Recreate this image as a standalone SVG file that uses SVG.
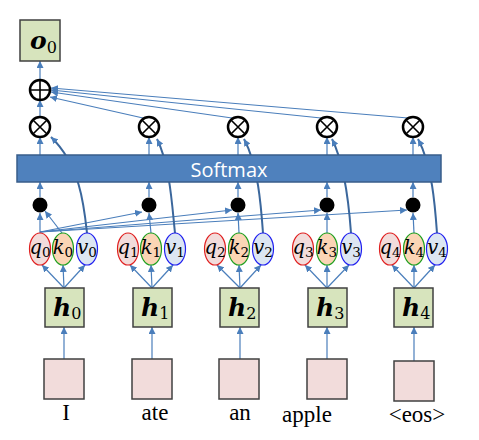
<svg xmlns="http://www.w3.org/2000/svg" width="479" height="440" viewBox="0 0 479 440">
<style>
.ln{stroke:#4A7EBB;stroke-width:1.2;fill:none;marker-end:url(#ah)}
.cv{stroke:#3B679C;stroke-width:2;fill:none;marker-end:url(#ah)}
.grn{fill:#D7E4BD;stroke:#404040;stroke-width:1.5}
.pnk{fill:#F2DCDB;stroke:#404040;stroke-width:1.5}
.q{fill:#F2DCDB;stroke:#E02020;stroke-width:1.2}
.k{fill:#FBD5B5;stroke:#20A020;stroke-width:1.2}
.v{fill:#DCE6F2;stroke:#2020F0;stroke-width:1.2}
.op{fill:#fff;stroke:#000;stroke-width:2.5}
.opx{stroke:#000;stroke-width:1.6;fill:none}
.dot{fill:#000}
.sym{font-family:"DejaVu Serif","Liberation Serif",serif;font-style:italic;font-size:19.5px;fill:#000;text-anchor:middle}
.sub{font-style:normal;font-size:13.5px}
.hb{font-family:"DejaVu Serif","Liberation Serif",serif;font-style:italic;font-weight:bold;font-size:25px;fill:#000}
.hs{font-style:normal;font-weight:normal;font-size:16px}
.word{font-family:"Liberation Serif",serif;font-size:23px;fill:#000;text-anchor:middle}
</style>
<defs>
<marker id="ah" viewBox="0 0 10 10" refX="10" refY="5" markerWidth="7" markerHeight="7" markerUnits="userSpaceOnUse" orient="auto">
<path d="M0,0 L10,5 L0,10 z" fill="#4A7EBB"/>
</marker>
</defs>
<g id="connectors">
<line class="ln" x1="64" y1="359" x2="64" y2="327"/>
<line class="ln" x1="152" y1="359" x2="152" y2="327"/>
<line class="ln" x1="240" y1="359" x2="240" y2="327"/>
<line class="ln" x1="327" y1="359" x2="327" y2="327"/>
<line class="ln" x1="414" y1="361" x2="414" y2="327"/>
<line class="ln" x1="64" y1="288" x2="42" y2="265"/>
<line class="ln" x1="64" y1="288" x2="63" y2="265"/>
<line class="ln" x1="64" y1="288" x2="85" y2="265"/>
<line class="ln" x1="152" y1="288" x2="130" y2="265"/>
<line class="ln" x1="152" y1="288" x2="151" y2="265"/>
<line class="ln" x1="152" y1="288" x2="173" y2="265"/>
<line class="ln" x1="240" y1="288" x2="217" y2="265"/>
<line class="ln" x1="240" y1="288" x2="239" y2="265"/>
<line class="ln" x1="240" y1="288" x2="261" y2="265"/>
<line class="ln" x1="327" y1="288" x2="305" y2="265"/>
<line class="ln" x1="327" y1="288" x2="327" y2="265"/>
<line class="ln" x1="327" y1="288" x2="349" y2="265"/>
<line class="ln" x1="414" y1="288" x2="392" y2="265"/>
<line class="ln" x1="414" y1="288" x2="414" y2="265"/>
<line class="ln" x1="414" y1="288" x2="435" y2="265"/>
<line class="ln" x1="40" y1="233" x2="40" y2="213"/>
<line class="ln" x1="62" y1="233" x2="45" y2="211"/>
<line class="ln" x1="40" y1="232" x2="142" y2="212"/>
<line class="ln" x1="40" y1="232" x2="232" y2="210"/>
<line class="ln" x1="40" y1="232" x2="321" y2="210"/>
<line class="ln" x1="40" y1="232" x2="407" y2="210"/>
<line class="ln" x1="151" y1="233" x2="149" y2="213"/>
<line class="ln" x1="239" y1="233" x2="238" y2="213"/>
<line class="ln" x1="327" y1="233" x2="327" y2="213"/>
<line class="ln" x1="414" y1="233" x2="413" y2="213"/>
<line class="ln" x1="40" y1="197" x2="40" y2="182"/>
<line class="ln" x1="149" y1="197" x2="149" y2="182"/>
<line class="ln" x1="238" y1="197" x2="238" y2="182"/>
<line class="ln" x1="327" y1="197" x2="327" y2="182"/>
<line class="ln" x1="413" y1="197" x2="413" y2="182"/>
<line class="ln" x1="40" y1="155" x2="40" y2="137"/>
<line class="ln" x1="149" y1="155" x2="149" y2="137"/>
<line class="ln" x1="238" y1="155" x2="238" y2="137"/>
<line class="ln" x1="327" y1="155" x2="327" y2="137"/>
<line class="ln" x1="413" y1="155" x2="413" y2="137"/>
<path class="cv" d="M87,233 C84,205 80,165 51,137"/>
<path class="cv" d="M175,233 C172,205 170,165 157,139"/>
<path class="cv" d="M263,233 C261,205 258,165 244,139"/>
<path class="cv" d="M351,233 C349,205 345,165 332,139"/>
<path class="cv" d="M437,233 C435,205 432,165 418,139"/>
<line class="ln" x1="40" y1="117" x2="40" y2="100"/>
<line class="ln" x1="143" y1="118" x2="50" y2="97"/>
<line class="ln" x1="232" y1="118" x2="51" y2="92"/>
<line class="ln" x1="321" y1="118" x2="51" y2="90"/>
<line class="ln" x1="408" y1="118" x2="51" y2="88"/>
<line class="ln" x1="40" y1="80" x2="40" y2="61"/>
</g>
<g id="o0">
<rect class="grn" x="20" y="20" width="40" height="41"/>
<text class="hb" x="30" y="49">o<tspan class="hs" dy="4">0</tspan></text>
</g>
<g id="plus">
<circle class="op" cx="40" cy="90" r="10"/>
<path class="opx" d="M30,90 H50 M40,80 V100"/>
</g>
<g id="otimes0"><circle class="op" cx="40" cy="127" r="10"/><path class="opx" d="M33,120 L47,134 M47,120 L33,134"/></g>
<g id="otimes1"><circle class="op" cx="149" cy="127" r="10"/><path class="opx" d="M142,120 L156,134 M156,120 L142,134"/></g>
<g id="otimes2"><circle class="op" cx="238" cy="127" r="10"/><path class="opx" d="M231,120 L245,134 M245,120 L231,134"/></g>
<g id="otimes3"><circle class="op" cx="327" cy="127" r="10"/><path class="opx" d="M320,120 L334,134 M334,120 L320,134"/></g>
<g id="otimes4"><circle class="op" cx="413" cy="127" r="10"/><path class="opx" d="M406,120 L420,134 M420,120 L406,134"/></g>
<g id="softmax">
<rect x="17" y="155" width="424" height="27" fill="#4F81BD" stroke="#385D8A" stroke-width="1.5"/>
<text x="229" y="177" font-family="'Open Sans',sans-serif" font-size="20" fill="#fff" text-anchor="middle">Softmax</text>
</g>
<g id="dot0"><circle class="dot" cx="40" cy="205" r="7.5"/></g>
<g id="dot1"><circle class="dot" cx="149" cy="205" r="7.5"/></g>
<g id="dot2"><circle class="dot" cx="238" cy="205" r="7.5"/></g>
<g id="dot3"><circle class="dot" cx="327" cy="205" r="7.5"/></g>
<g id="dot4"><circle class="dot" cx="413" cy="205" r="7.5"/></g>
<g id="qkv0">
<ellipse class="q" cx="40" cy="249" rx="10.5" ry="16"/>
<ellipse class="k" cx="63" cy="249" rx="10.5" ry="16"/>
<ellipse class="v" cx="87" cy="249" rx="10.5" ry="16"/>
<text class="sym" x="40" y="254">q<tspan class="sub" dy="3">0</tspan></text>
<text class="sym" x="63" y="254">k<tspan class="sub" dy="3">0</tspan></text>
<text class="sym" x="87" y="254">v<tspan class="sub" dy="3">0</tspan></text>
</g>
<g id="qkv1">
<ellipse class="q" cx="128" cy="249" rx="10.5" ry="16"/>
<ellipse class="k" cx="151" cy="249" rx="10.5" ry="16"/>
<ellipse class="v" cx="175" cy="249" rx="10.5" ry="16"/>
<text class="sym" x="128" y="254">q<tspan class="sub" dy="3">1</tspan></text>
<text class="sym" x="151" y="254">k<tspan class="sub" dy="3">1</tspan></text>
<text class="sym" x="175" y="254">v<tspan class="sub" dy="3">1</tspan></text>
</g>
<g id="qkv2">
<ellipse class="q" cx="215" cy="249" rx="10.5" ry="16"/>
<ellipse class="k" cx="239" cy="249" rx="10.5" ry="16"/>
<ellipse class="v" cx="263" cy="249" rx="10.5" ry="16"/>
<text class="sym" x="215" y="254">q<tspan class="sub" dy="3">2</tspan></text>
<text class="sym" x="239" y="254">k<tspan class="sub" dy="3">2</tspan></text>
<text class="sym" x="263" y="254">v<tspan class="sub" dy="3">2</tspan></text>
</g>
<g id="qkv3">
<ellipse class="q" cx="303" cy="249" rx="10.5" ry="16"/>
<ellipse class="k" cx="327" cy="249" rx="10.5" ry="16"/>
<ellipse class="v" cx="351" cy="249" rx="10.5" ry="16"/>
<text class="sym" x="303" y="254">q<tspan class="sub" dy="3">3</tspan></text>
<text class="sym" x="327" y="254">k<tspan class="sub" dy="3">3</tspan></text>
<text class="sym" x="351" y="254">v<tspan class="sub" dy="3">3</tspan></text>
</g>
<g id="qkv4">
<ellipse class="q" cx="390" cy="249" rx="10.5" ry="16"/>
<ellipse class="k" cx="414" cy="249" rx="10.5" ry="16"/>
<ellipse class="v" cx="437" cy="249" rx="10.5" ry="16"/>
<text class="sym" x="390" y="254">q<tspan class="sub" dy="3">4</tspan></text>
<text class="sym" x="414" y="254">k<tspan class="sub" dy="3">4</tspan></text>
<text class="sym" x="437" y="254">v<tspan class="sub" dy="3">4</tspan></text>
</g>
<g id="h0"><rect class="grn" x="45" y="288" width="39" height="39"/><text class="hb" x="53" y="316">h<tspan class="hs" dy="3">0</tspan></text></g>
<g id="h1"><rect class="grn" x="133" y="288" width="39" height="39"/><text class="hb" x="141" y="316">h<tspan class="hs" dy="3">1</tspan></text></g>
<g id="h2"><rect class="grn" x="220" y="288" width="39" height="39"/><text class="hb" x="228" y="316">h<tspan class="hs" dy="3">2</tspan></text></g>
<g id="h3"><rect class="grn" x="308" y="288" width="39" height="39"/><text class="hb" x="316" y="316">h<tspan class="hs" dy="3">3</tspan></text></g>
<g id="h4"><rect class="grn" x="394" y="288" width="39" height="39"/><text class="hb" x="402" y="316">h<tspan class="hs" dy="3">4</tspan></text></g>
<g id="x0"><rect class="pnk" x="44" y="359" width="40" height="40"/><text class="word" x="66" y="420">I</text></g>
<g id="x1"><rect class="pnk" x="132" y="359" width="40" height="40"/><text class="word" x="155" y="420">ate</text></g>
<g id="x2"><rect class="pnk" x="219" y="359" width="40" height="40"/><text class="word" x="240" y="420">an</text></g>
<g id="x3"><rect class="pnk" x="307" y="359" width="40" height="40"/><text class="word" x="307" y="422">apple</text></g>
<g id="x4"><rect class="pnk" x="394" y="361" width="40" height="40"/><text class="word" x="417" y="422">&lt;eos&gt;</text></g>
</svg>
